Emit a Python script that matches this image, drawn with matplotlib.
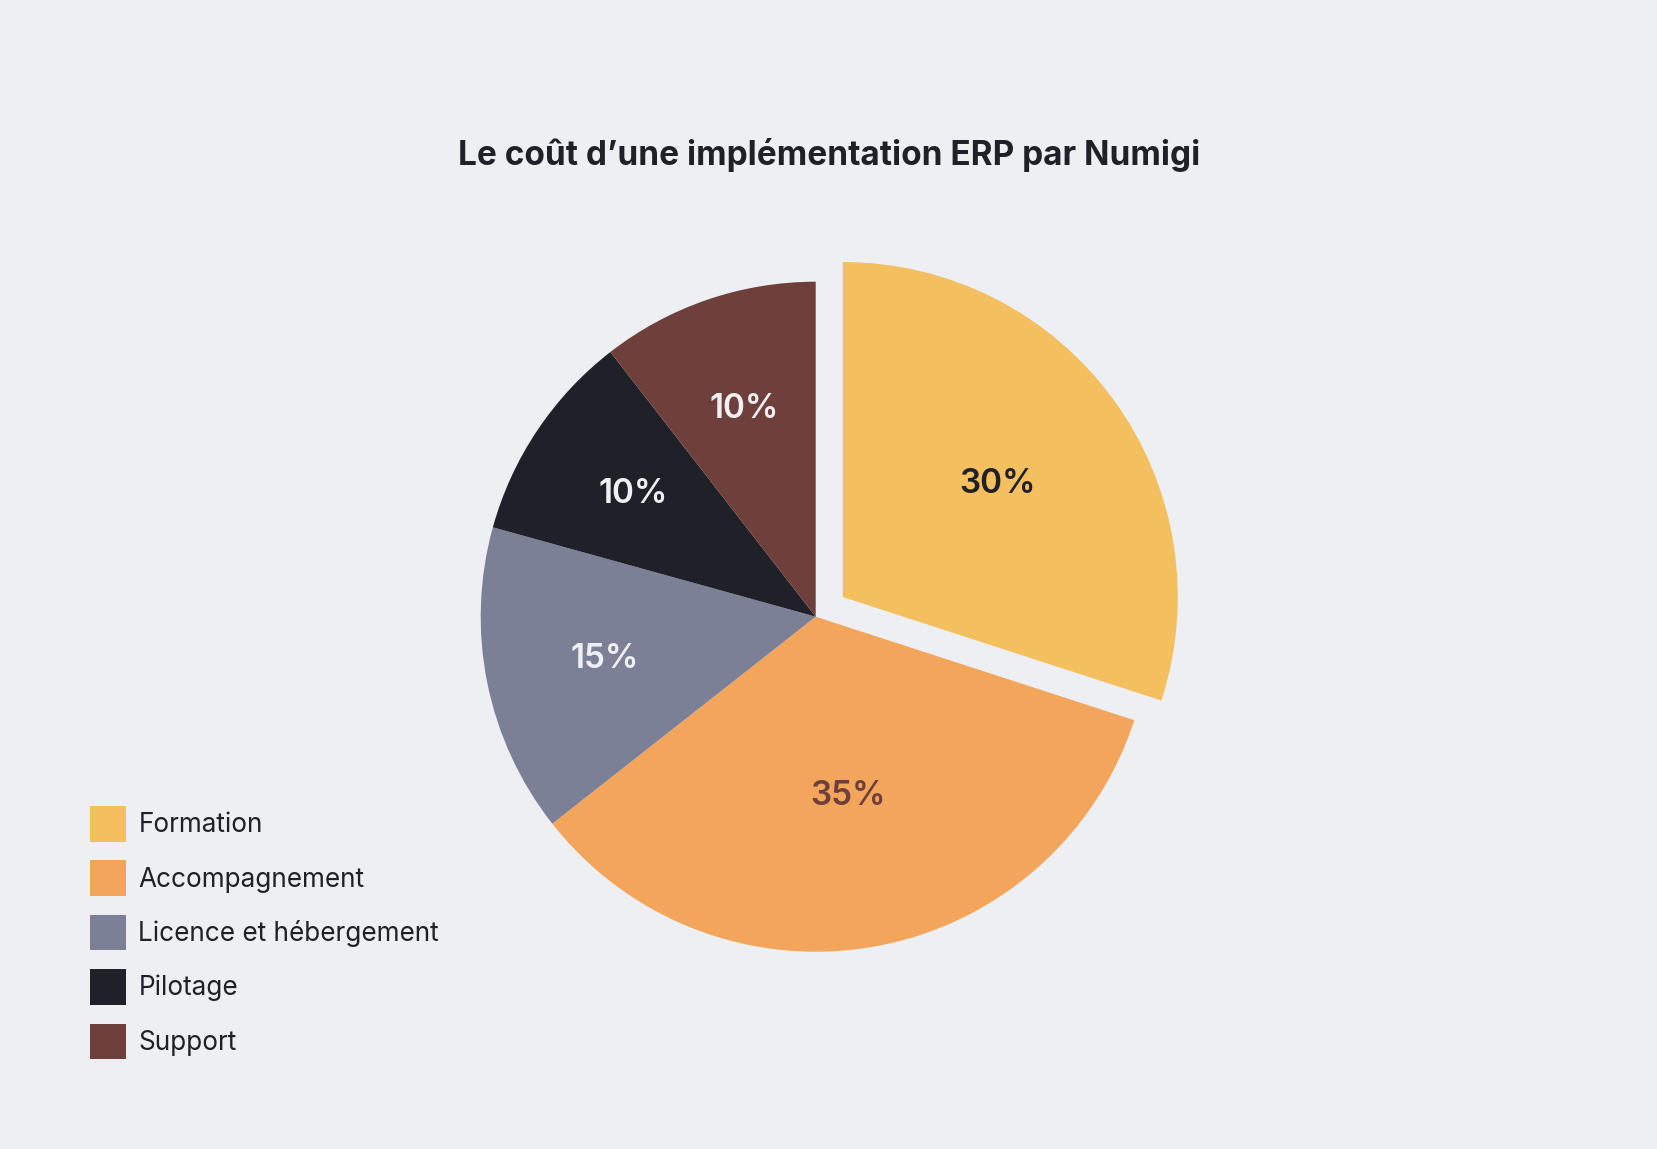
import matplotlib
matplotlib.use("Agg")
import matplotlib.pyplot as plt
import numpy as np

# ---- data ----
categories = ["Formation", "Accompagnement", "Licence et hébergement", "Pilotage", "Support"]
shares = [30, 34.4, 14.9, 10.2, 10.5]
pct_labels = ["30%", "35%", "15%", "10%", "10%"]
title = "Le coût d’une implémentation ERP par Numigi"

# ---- style ----
colors = ["#F4BF5E", "#F4A55C", "#7B8097", "#1F2028", "#6F3F3B"]
label_colors = ["#1F2028", "#6F3F3B", "#F0F0F3", "#F0F0F3", "#F0F0F3"]
explode = [0.1, 0, 0, 0, 0]
bg = "#EEEFF2"
FONT = ["Inter", "DejaVu Sans"]
plt.rcParams["font.family"] = FONT

W, H, DPI = 1657, 1149, 100
fig = plt.figure(figsize=(W / DPI, H / DPI), dpi=DPI, facecolor=bg)

# pie geometry (pixels)
cx, cy, r = 815.7, 616.7, 335.0
lim = 1.2
side = 2 * lim * r
ax = fig.add_axes([(cx - side / 2) / W, (H - cy - side / 2) / H, side / W, side / H])
ax.set_facecolor(bg)

wedges, _ = ax.pie(shares, colors=colors, explode=explode, startangle=90,
                   counterclock=False, radius=1.0,
                   wedgeprops=dict(linewidth=0))
ax.set_xlim(-lim, lim)
ax.set_ylim(-lim, lim)
ax.set_aspect("equal")
ax.axis("off")

# percentage labels at each sector centroid
for w, txt, col in zip(wedges, pct_labels, label_colors):
    t1, t2 = np.deg2rad(w.theta1), np.deg2rad(w.theta2)
    a = (t2 - t1) / 2
    mid = (t1 + t2) / 2
    d = 2 * w.r * np.sin(a) / (3 * a)
    x = w.center[0] + d * np.cos(mid)
    y = w.center[1] + d * np.sin(mid)
    ax.text(x, y, txt, ha="center", va="center", color=col,
            fontsize=24, fontweight="semibold")

fig.text(829 / W, 1 - 155 / H, title, ha="center", va="center",
         fontsize=24, fontweight="bold", color="#1F2028")

fs = 18.8
leg = fig.legend(wedges, categories, loc="upper left",
                 bbox_to_anchor=(90 / W, 1 - 806 / H), bbox_transform=fig.transFigure,
                 frameon=False, fontsize=fs, borderpad=0, borderaxespad=0,
                 handlelength=1.38, handleheight=1.72, handletextpad=0.47,
                 labelspacing=0.72)
for t in leg.get_texts():
    t.set_color("#1F2028")

fig.savefig("out.png", dpi=DPI, facecolor=bg)
